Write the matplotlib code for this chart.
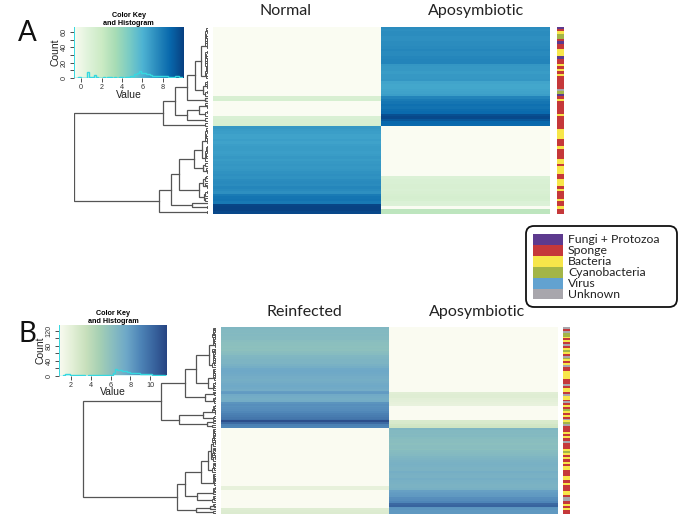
import numpy as np
import matplotlib
matplotlib.use('Agg')
import matplotlib.pyplot as plt
from matplotlib.colors import LinearSegmentedColormap, ListedColormap
from matplotlib.patches import FancyBboxPatch, Rectangle

W, H = 685, 527
plt.rcParams['font.family'] = ['Liberation Sans', 'DejaVu Sans']

# panel A rows, top to bottom
normal = [-0.5]*28 + [1.3, 1.4] + [-0.5]*6 + [1.2, 1.3, 1.3, 1.4] + \
    [6.8, 6.7, 6.6, 6.5, 6.5, 6.6, 6.5, 6.6, 6.7, 6.7, 6.6, 6.7, 6.8, 6.7, 6.8, 6.9, 6.8, 6.9,
     7.0, 7.1, 7.0, 7.2, 7.3, 7.2, 7.4, 7.3, 7.1, 7.8, 8.0, 8.1, 7.9, 9.6, 9.7, 9.7, 9.5]
apo = [7.2, 7.1, 7.2, 7.2, 7.1, 7.1, 7.2, 7.2, 7.3, 7.4, 7.3, 7.3, 7.4, 7.5, 7.5,
       6.9, 6.8, 6.8, 6.7, 6.8, 6.8, 6.9,
       6.4, 6.3, 6.3, 6.4, 6.5, 6.6,
       7.5, 7.8, 8.0, 8.2, 8.1, 8.3, 8.4, 9.3, 9.5, 9.0, 8.5, 8.4] + \
    [-0.5]*20 + [1.1, 1.2, 1.2, 1.3, 1.3, 1.2, 1.3, 1.4, 1.5, 1.4, 1.1, 1.0, -0.5, 2.6, 2.6]
cats_a = list('FSBCCSFSSBBBFSSBSBSBS' 'SSSSUCFSBSSSSSBSSSS'
              'SBBBBSSSBSSSSBBSBBBSSBBBSBSSSBSSBSS')

# panel B rows
reinf = [6.6, 6.5, 6.5, 6.4, 6.5, 6.4, 6.4, 6.2, 6.1, 6.1, 6.0, 6.1, 6.0, 6.2, 6.3,
         6.6, 6.7, 6.8, 6.8, 6.8, 7.0, 7.2, 7.5, 7.6, 7.5, 7.4, 7.3, 7.3, 7.2, 7.3, 7.4,
         7.5, 7.4, 7.3, 8.0, 8.1, 7.4, 7.3, 7.2, 7.3, 8.4, 8.6, 8.5, 8.6, 8.7, 8.9, 9.2, 9.4,
         9.6, 9.8, 11.3, 10.2, 9.2, 9.0] + \
    [0.8]*31 + [1.9, 1.9] + [0.8]*10 + [2.3, 2.4, 2.5]
apo_b = [0.8]*35 + [2.2, 2.3, 2.3, 2.1, 2.0, 1.9, 1.8] + [0.8]*8 + [2.6, 2.7, 3.0, 3.1] + \
    [6.7, 6.5, 6.5, 6.4, 6.5, 6.3, 6.2, 6.2, 6.1, 6.2, 6.2, 6.1, 6.3, 6.4, 6.5, 6.7, 6.8, 6.9,
     7.0, 7.1, 7.0, 6.9, 6.9, 7.2, 7.1, 7.0, 7.0, 7.2, 7.1, 7.0, 6.9, 6.9, 7.1, 7.9, 8.0, 8.1,
     8.2, 8.6, 8.7, 9.0, 10.2, 10.4, 8.4, 8.3, 8.2, 8.2]
cats_b = list('USUCCBSBSUSBCBSUCBSBUSSBBBBSSSUSBBSUBBSUSBSCBSBSUBCUS'
              'SSBSBSSUSSSBCBSBSSBSBBSSSBBSSBSSSBBSUUSSBSBSS')

hist_a = [0, 1, 0, 0, 0, 8, 1, 1, 4, 1, 0, 0, 1, 0, 1, 1, 0, 1, 0, 1, 1, 0, 1, 1, 2, 3,
          5, 7, 9, 7, 6, 5, 5, 4, 3, 3, 3, 2, 2, 3, 2, 1, 1, 1, 2, 3, 1, 1]
hist_b = [1, 5, 3, 2, 1, 1, 1, 1, 1, 0, 1, 1, 2, 2, 1, 1, 1, 1, 1, 2, 7, 18, 16, 15, 12,
          11, 9, 8, 7, 6, 6, 5, 5, 4, 3, 3, 2, 2, 2, 1, 1, 0]

# dendrograms, (height, child, child); a plain int is a tight run of leaves
tree_a = (134,
          (45, (33, (21, (13, (7, 9, 12), (5, 4, 3)), (3, 1, 1)),
                (21, (9, 3, 3), 2)), 2),
          (49, (37, (29, (14, (6, 7, 7), (5, 2, 3)), (9, (5, 3, 3), (4, 3, 2))), (16, 1, 2)), 2))
tree_b = (133,
          (55, (31, (20, (7, 11, 11), (8, 7, 5)), (11, 3, 4)),
           (37, (13, 6, 3), (9, 2, 2))),
          (39, (31, (15, (8, (5, 10, 8), 6), 7), (19, 5, 4)), (20, (6, 3, 1), 2)))
comb_h = [1.5, 2.5, 1.0, 3.0, 2.0, 3.5, 1.2, 2.8]

col_colors = {'F': '#5d3a8e', 'S': '#c5383a', 'B': '#f7e64a', 'C': '#a3b547', 'V': '#62a2d0', 'U': '#a8a6ac'}
legend_names = ['Fungi + Protozoa', 'Sponge', 'Bacteria', 'Cyanobacteria', 'Virus', 'Unknown']
legend_keys = ['F', 'S', 'B', 'C', 'V', 'U']

cmap_a = LinearSegmentedColormap.from_list('gnbu', ['#fafcf2', '#e0f3db', '#ccebc5', '#a8ddb5', '#7bccc4',
                                                    '#4eb3d3', '#2b8cbe', '#0868ac', '#084081'])
cmap_b = LinearSegmentedColormap.from_list('muted', ['#fafbf1', '#e2efd6', '#c8e0bc', '#a6d0b4', '#88bdc0',
                                                     '#6ea8c8', '#4f86b8', '#3a66a0', '#274583'])


def px(x0, y0, x1, y1):
    return [x0/W, 1-y1/H, (x1-x0)/W, (y1-y0)/H]


fig = plt.figure(figsize=(W/100, H/100), dpi=100, facecolor='white')


def draw_tree(ax, node, start):
    # returns y of the node, its height and the next free row
    if isinstance(node, int):
        y, h = start+0.5, 0.0
        for i in range(1, node):
            h2 = comb_h[(start+i) % len(comb_h)]
            y2 = start+i+0.5
            ax.plot([h, h2, h2, 0], [y, y, y2, y2], color='#555555', lw=0.7, solid_joinstyle='miter')
            y, h = (y+y2)/2, h2
        return y, h, start+node
    h, a, b = node
    ya, ha, nxt = draw_tree(ax, a, start)
    yb, hb, nxt = draw_tree(ax, b, nxt)
    ax.plot([ha, h, h, hb], [ya, ya, yb, yb], color='#555555', lw=0.9, solid_joinstyle='miter')
    return (ya+yb)/2, h, nxt


def heat_panel(box, bar, dend_x, left, right, cats, tree, cmap, vmin, vmax):
    x0, y0, x1, y1 = box
    ax = fig.add_axes(px(x0, y0, x1, y1))
    ax.imshow(np.array([left, right]).T, cmap=cmap, vmin=vmin, vmax=vmax, aspect='auto', interpolation='nearest')
    ax.axis('off')
    sax = fig.add_axes(px(bar[0], y0, bar[1], y1))
    idx = [[legend_keys.index(c)] for c in cats]
    sax.imshow(idx, cmap=ListedColormap([col_colors[k] for k in legend_keys]), vmin=0, vmax=5,
               aspect='auto', interpolation='nearest')
    sax.axis('off')
    dax = fig.add_axes(px(dend_x[0], y0, dend_x[1], y1))
    draw_tree(dax, tree, 0)
    dax.set_xlim(tree[0]+0.5, 0)
    dax.set_ylim(len(left), 0)
    dax.axis('off')


def color_key(box, cmap, vmin, vmax, xlim, ylim, xticks, ylabels, yminor, counts, first, width):
    x0, y0, x1, y1 = box
    ax = fig.add_axes(px(x0, y0, x1, y1))
    ax.imshow(np.linspace(vmin, vmax, 256)[None, :], cmap=cmap, vmin=vmin, vmax=vmax, aspect='auto',
              extent=[xlim[0], xlim[1], ylim[0], ylim[1]])
    edges = first + width*np.arange(len(counts)+1)
    ax.stairs(counts, edges, color='#35d8e0', lw=1.0)
    ax.axvline(xlim[0], color='#35d8e0', lw=1.4)
    ax.axhline(0, color='#35d8e0', lw=1.0)
    ax.set_xlim(xlim)
    ax.set_ylim(ylim)
    for s in ax.spines.values():
        s.set_visible(False)
    ax.set_xticks(xticks)
    ax.set_yticks(yminor)
    ax.set_yticklabels([str(t) if t in ylabels else '' for t in yminor], rotation=90, va='center')
    ax.tick_params(axis='both', labelsize=5.2, length=3, width=0.6, color='#333333', pad=1.5, labelcolor='#333333')
    ax.set_xlabel('Value', fontsize=7.5, labelpad=-1, color='#222222')
    ax.set_ylabel('Count', fontsize=7.5, labelpad=0, color='#222222')
    ax.set_title('Color Key\nand Histogram', fontsize=5.2, fontweight='bold', pad=-2.5, linespacing=1.15)


heat_panel((213, 27, 550, 214.5), (557, 564), (74, 208), normal, apo, cats_a, tree_a, cmap_a, -0.5, 9.8)
heat_panel((221, 327, 558, 514), (563, 570), (82, 216), reinf, apo_b, cats_b, tree_b, cmap_b, 0.8, 11.7)

color_key((74, 27, 183, 78), cmap_a, -0.5, 9.8, (-0.7, 10), (0, 66.6), [0, 2, 4, 6, 8],
          [0, 20, 40, 60], list(range(0, 70, 10)), hist_a, -0.5, 0.22)
color_key((59, 325, 167, 375.5), cmap_b, 0.8, 11.7, (0.8, 11.7), (0, 135), [2, 4, 6, 8, 10],
          [0, 40, 80, 120], list(range(0, 140, 20)), hist_b, 1.2, 0.25)

# labels and legend in pixel coordinates
over = fig.add_axes([0, 0, 1, 1], zorder=5)
over.set_xlim(0, W)
over.set_ylim(H, 0)
over.axis('off')
head = dict(family='Lato', fontsize=11.5, ha='center', va='center', color='#222222')
over.text(286, 11, 'Normal', **head)
over.text(476, 11, 'Aposymbiotic', **head)
over.text(304, 312, 'Reinfected', **head)
over.text(477, 312, 'Aposymbiotic', **head)
over.text(27, 33, 'A', family='Lato', fontsize=20, ha='center', va='center', color='#111111')
over.text(27, 334, 'B', family='Lato', fontsize=20, ha='center', va='center', color='#111111')

over.add_patch(FancyBboxPatch((530, 230), 143, 73, boxstyle='round,pad=4,rounding_size=8',
                              fc='white', ec='#111111', lw=1.3))
for i, (name, key) in enumerate(zip(legend_names, legend_keys)):
    over.add_patch(Rectangle((533, 234+i*10.9), 30, 10.9, fc=col_colors[key], ec='none'))
    over.text(568, 239.5+i*10.9, name, family='Lato', fontsize=8.8, va='center', color='#222222')

fig.savefig('out.png', dpi=100)
